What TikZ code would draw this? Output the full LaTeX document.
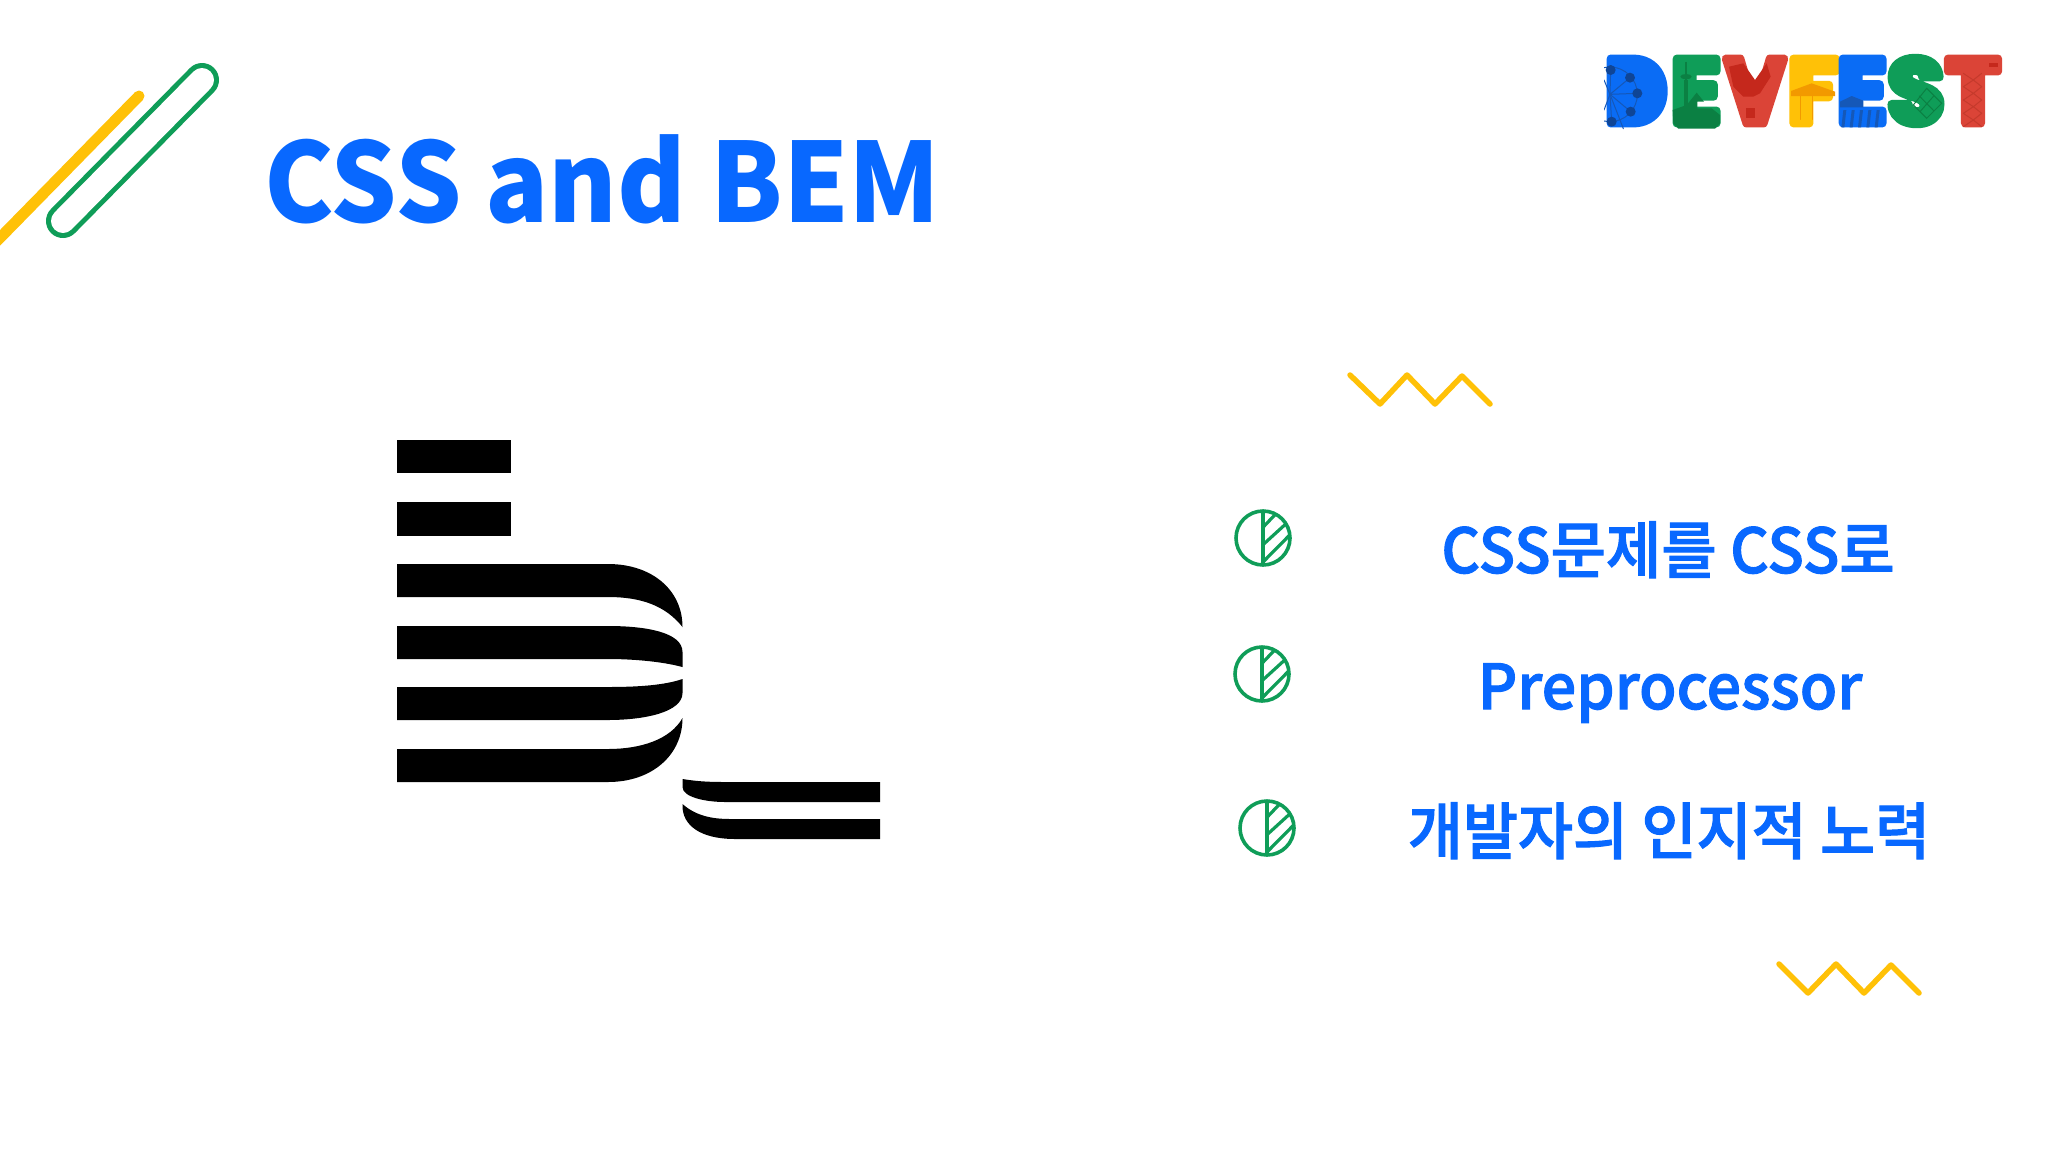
\documentclass[tikz,border=0pt]{standalone}
\usepackage{fontspec}
\newfontfamily\cjk{Noto Sans CJK KR}
\newfontfamily\cjkmed[FakeBold=1.6]{Noto Sans CJK KR Medium}
\newfontfamily\logofont[BoldFeatures={FakeBold=9}]{Poppins}
\definecolor{tblue}{HTML}{0868FF}
\definecolor{ggreen}{HTML}{0F9D58}
\definecolor{gyellow}{HTML}{FFC107}
\definecolor{gblue}{HTML}{0A6CF5}
\definecolor{gred}{HTML}{DB4437}
\definecolor{dblue}{HTML}{1558B8}
\definecolor{cabin}{HTML}{0F4596}
\definecolor{dgreen}{HTML}{0B8043}
\definecolor{dred}{HTML}{C5281C}
\definecolor{dorange}{HTML}{F29900}
\definecolor{lred}{HTML}{C53A2C}
\tikzset{
  titletext/.style={inner sep=0,anchor=base west,text=tblue,font=\cjk\bfseries\fontsize{110}{120}\selectfont},
  bodytext/.style={inner sep=0,anchor=base,text=tblue,font=\cjkmed\fontsize{62}{70}\selectfont},
  zigzag/.style={draw=gyellow,line width=5.5pt,line cap=round,line join=round},
  iconring/.style={draw=ggreen,line width=3.6pt,fill=white},
  iconhatch/.style={draw=ggreen,line width=3.2pt},
  logoletter/.style={inner sep=0,anchor=center,font=\logofont\bfseries\fontsize{92}{92}\selectfont},
  detail/.style={line width=1pt,line cap=round},
}
\newcommand{\leaficon}[2]{%
  \begin{scope}[shift={(#1,#2)}]
    \path[iconring] (0,0) circle (27);
    \path[iconhatch] (0,-27) -- (0,27);
    \path[iconhatch] (0,-10.7) -- (11.7,-23);
    \path[iconhatch] (0,6.7) -- (22.7,-14);
    \path[iconhatch] (1,23) -- (26,-2.3);
  \end{scope}}
\begin{document}
\begin{tikzpicture}[x=1pt,y=-1pt]
\useasboundingbox[fill=white] (0,0) rectangle (2048,1152);
% top-left strokes
\draw[gyellow,line width=11pt,line cap=round] (-6,244) -- (139,96);
\draw[ggreen,line width=34pt,line cap=round] (63,221) -- (202,80);
\draw[white,line width=24pt,line cap=round] (63,221) -- (202,80);
% title
\node[titletext] (title) at (264,222) {\scalebox{0.95}[1]{CSS and BEM}};
% BEM mark
\fill[black] (397,440) rectangle (511,473);
\fill[black] (397,502) rectangle (511,536);
\fill[black] (397,564) -- (608,564) .. controls (652,564) and (682.5,590) .. (682.5,627)
  .. controls (665,605) and (640,597) .. (608,597) -- (397,597) -- cycle;
\fill[black] (397,626) -- (608,626) .. controls (645,626) and (682.5,632) .. (682.5,652)
  -- (682.5,667) .. controls (660,661) and (630,659) .. (608,659) -- (397,659) -- cycle;
\fill[black] (397,687) -- (608,687) .. controls (640,687) and (665,685) .. (682.5,679)
  -- (682.5,693) .. controls (682.5,712) and (645,720) .. (608,720) -- (397,720) -- cycle;
\fill[black] (397,749) -- (608,749) .. controls (640,749) and (670,740) .. (682.5,718)
  .. controls (682.5,755) and (652,782) .. (608,782) -- (397,782) -- cycle;
\fill[black] (682.5,779) .. controls (695,781) and (705,782) .. (725,782) -- (880,782) -- (880,802) -- (725,802)
  .. controls (705,802) and (682.5,797) .. (682.5,787) -- cycle;
\fill[black] (682.5,804) .. controls (695,815) and (710,819) .. (730,819) -- (880,819) -- (880,839) -- (735,839)
  .. controls (700,839) and (682.5,825) .. (682.5,806) -- cycle;
% zigzags
\draw[zigzag] (1350,375) -- (1380,404) -- (1407,375) -- (1435,404) -- (1462,376) -- (1490,404);
\draw[zigzag] (1779,964) -- (1808,993) -- (1836,964) -- (1864,993) -- (1891,965) -- (1919,993);
% icons
\leaficon{1263}{538}
\leaficon{1262}{674}
\leaficon{1267}{828}
% body
\node[bodytext] (l1) at (1668,573) {\scalebox{0.97}[1]{CSS문제를 CSS로}};
\node[bodytext] (l2) at (1670,709) {\scalebox{0.985}[1]{Preprocessor}};
\node[bodytext] (l3) at (1669,854) {\scalebox{0.965}[1]{개발자의 인지적 노력}};
% logo letters
\begin{scope}[line join=round]
\node[logoletter,text=gblue] (d) at (1636,91) {\scalebox{0.92}[1]{D}};
\node[logoletter,text=ggreen] (e1) at (1696,91) {E};
\node[logoletter,text=gred] (v) at (1755,91) {\scalebox{0.9}[1]{V}};
\node[logoletter,text=gyellow] (f) at (1813,91) {F};
\node[logoletter,text=gblue] (e2) at (1862,91) {E};
\node[logoletter,text=ggreen] (s) at (1916,91) {S};
\node[logoletter,text=gred] (t) at (1973,91) {T};
\end{scope}
% logo details, in 3x coordinates of the logo area
\begin{scope}[shift={(1580,30)},scale=1/3]
  % solid D
  \fill[gblue,rounded corners=20pt] (90,90) rectangle (235,275);
  % ferris wheel
  \begin{scope}
    \clip (72,68) rectangle (268,298);
    \draw[detail,draw=dblue] (90,193) circle (82);
    \foreach \p in {(92,120),(150,143),(172,190),(152,245),(95,275),(130,296),(72,150),(72,240)}
      \draw[detail,draw=dblue] (90,193) -- \p;
    \foreach \p in {(92,120),(150,143),(172,190),(152,245),(95,275)}
      \fill[cabin] \p circle (15);
  \end{scope}
  % tower and hill
  \fill[dgreen] (278,240) -- (320,225) -- (350,188) -- (372,215) -- (352,215) -- (352,235)
    -- (395,235) -- (420,255) -- (420,280) -- (405,296) -- (295,296) -- (280,280) -- cycle;
  \draw[line width=1.2pt,draw=dgreen] (318,95) -- (318,240);
  \fill[dgreen] (318,140) ellipse (17 and 8);
  \fill[dgreen] (312,150) rectangle (324,240);
  % balloon
  \fill[dred] (447,110) -- (490,100) -- (525,150) -- (560,100) -- (572,140) -- (540,190)
    -- (520,200) -- (490,200) -- (460,170) -- cycle;
  \fill[dred] (497,235) rectangle (525,265);
  % carousel
  \fill[dorange] (633,183) -- (695,160) -- (765,185) -- (765,198) -- (633,198) -- cycle;
  \foreach \x in {660,697} \draw[detail,draw=dorange] (\x,198) -- (\x,268);
  % pier
  \fill[dblue] (780,215) -- (815,198) -- (850,212) -- (850,232) -- (780,232) -- cycle;
  \foreach \x in {790,815,840,865,890}
    \fill[dblue] (\x,240) -- (\x+9,240) -- (\x+3,292) -- (\x-6,292) -- cycle;
  % lattice on S
  \draw[detail,draw=dgreen] (1040,175) -- (1085,220) -- (1040,265) -- (1000,225) -- cycle
    (1062,197) -- (1020,245) (1018,198) -- (1062,243);
  % lattice on T
  \foreach \y in {130,170,210,250}
    \draw[detail,draw=lred] (1150,\y) -- (1180,\y+20) -- (1205,\y) (1150,\y+40) -- (1180,\y+20) -- (1205,\y+40);
  \fill[dred] (1228,98) rectangle (1255,112);
\end{scope}
\end{tikzpicture}
\end{document}
